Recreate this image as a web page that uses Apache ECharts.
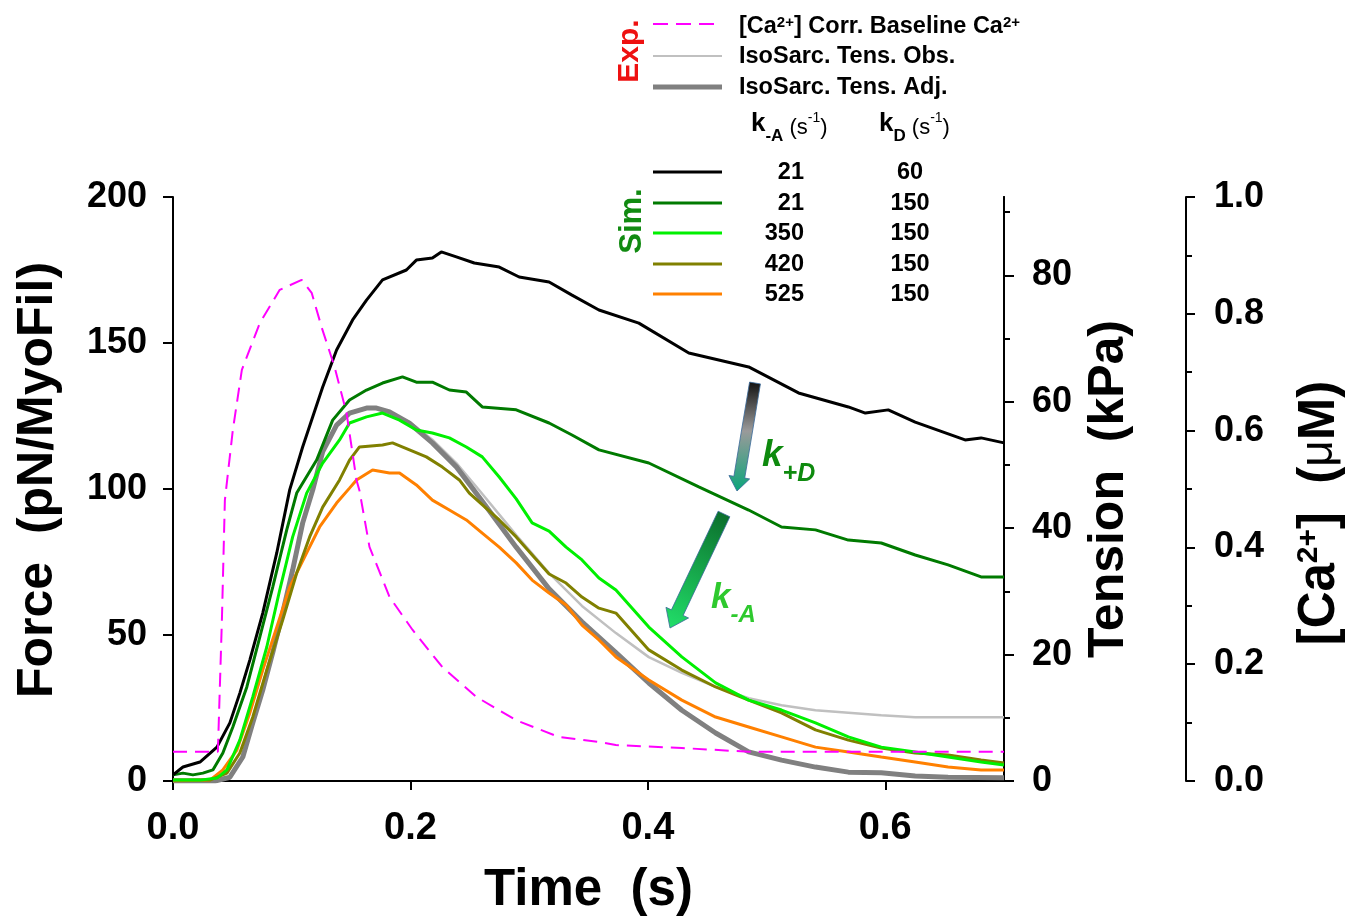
<!DOCTYPE html>
<html><head><meta charset="utf-8">
<script src="https://cdn.jsdelivr.net/npm/echarts@6/dist/echarts.min.js"></script>
<style>html,body{margin:0;padding:0;background:#fff}#c{width:1353px;height:924px}</style>
</head><body><div id="c"></div>
<script>
// ---------- Data (time in s) ----------
const timeTicks = [0, 0.2, 0.4, 0.6];
const forceTicks = [0, 50, 100, 150, 200];
const tensionMajorTicks = [0, 20, 40, 60, 80];
const tensionMinorTicks = [10, 30, 50, 70, 90];

// Experimental Ca2+ (uM), right-most axis
const caCorr = [[0,0.05],[0.0378,0.05],[0.0412,0.276],[0.0437,0.481],[0.0504,0.601],[0.058,0.704],[0.0731,0.784],[0.0899,0.841],[0.1084,0.858],[0.1168,0.836],[0.1252,0.777],[0.1361,0.709],[0.1462,0.63],[0.1546,0.515],[0.157,0.498],[0.1655,0.401],[0.1824,0.315],[0.2017,0.259],[0.2269,0.195],[0.2555,0.144],[0.2891,0.104],[0.3252,0.0753],[0.3588,0.0668],[0.373,0.0616],[0.4286,0.0565],[0.485,0.05],[0.7,0.05]];

// Experimental tension (kPa)
const tensObs = [[0,0],[0.0353,0],[0.0479,0.6],[0.0588,3.8],[0.0672,9.2],[0.0756,14.4],[0.084,20.3],[0.0924,26.6],[0.1008,33.4],[0.1092,40.8],[0.1176,46.0],[0.1261,52.1],[0.1378,56.3],[0.1487,58.2],[0.163,59.0],[0.1714,59.0],[0.1824,58.4],[0.1992,56.8],[0.2185,54.0],[0.2387,50.3],[0.258,46.0],[0.2891,38.9],[0.3168,32.9],[0.3445,27.7],[0.3731,23.4],[0.4008,19.6],[0.4286,17.1],[0.4571,14.9],[0.4849,13.1],[0.5126,12.0],[0.5412,11.2],[0.5689,10.8],[0.5966,10.4],[0.6252,10.1],[0.6529,10.1],[0.7,10.1]];
const tensAdj = [[0,0],[0.0353,0],[0.0479,0.6],[0.0588,3.8],[0.0672,9.2],[0.0756,14.4],[0.084,20.3],[0.0924,26.6],[0.1008,33.4],[0.1092,40.8],[0.1176,46.0],[0.1261,52.1],[0.1378,56.3],[0.1487,58.2],[0.163,59.0],[0.1714,59.0],[0.1824,58.4],[0.1992,56.6],[0.2185,53.5],[0.2387,49.7],[0.258,44.9],[0.2891,37.0],[0.3168,30.4],[0.3445,25.2],[0.3731,20.3],[0.4008,15.5],[0.4286,11.2],[0.4571,7.6],[0.4849,4.6],[0.5126,3.3],[0.5412,2.2],[0.5689,1.4],[0.5966,1.3],[0.6252,0.8],[0.6529,0.6],[0.7,0.5]];

// Simulated force (pN/MyoFil)
const sim21_60 = [[0,2.1],[0.0084,4.8],[0.0227,6.5],[0.037,11.6],[0.0479,19.9],[0.0563,30.1],[0.0647,41.4],[0.0756,57.5],[0.0874,78.1],[0.0983,99.7],[0.1092,114.4],[0.1261,134.9],[0.1378,147.6],[0.1513,157.9],[0.163,164.7],[0.1765,171.6],[0.1966,175.0],[0.205,178.4],[0.2185,179.1],[0.226,181.2],[0.2387,179.5],[0.2538,177.4],[0.2748,176.0],[0.2916,172.6],[0.3168,170.9],[0.3361,166.4],[0.3588,161.3],[0.3924,156.8],[0.4345,146.6],[0.4849,141.8],[0.5269,132.9],[0.5689,128.1],[0.5832,126.0],[0.6025,127.1],[0.6252,122.9],[0.6672,116.8],[0.6807,117.5],[0.7,115.8]];
const sim21_150 = [[0,2.1],[0.0084,2.7],[0.0168,2.1],[0.0252,2.7],[0.0336,3.8],[0.042,9.6],[0.0504,18.5],[0.0622,32.2],[0.0731,49.3],[0.084,66.4],[0.0958,86.0],[0.1042,98.6],[0.121,109.9],[0.1345,123.6],[0.1487,130.5],[0.163,133.9],[0.1765,136.3],[0.1933,138.4],[0.205,136.6],[0.2185,136.6],[0.2328,133.9],[0.2471,133.2],[0.2605,128.1],[0.2891,127.1],[0.3168,122.6],[0.3361,118.5],[0.3588,113.4],[0.4008,108.9],[0.4429,100.7],[0.4849,92.8],[0.5126,87.0],[0.5412,86.0],[0.5689,82.5],[0.5966,81.5],[0.6252,77.4],[0.6529,74.0],[0.6807,69.9],[0.7,69.9]];
const sim350_150 = [[0,0.3],[0.0227,0.3],[0.037,1.0],[0.0454,3.8],[0.0563,14.0],[0.0672,28.8],[0.079,45.9],[0.0899,65.4],[0.1008,83.6],[0.1126,98.6],[0.1261,108.9],[0.1403,116.8],[0.1487,122.6],[0.163,124.7],[0.1765,126.0],[0.1908,123.6],[0.205,120.2],[0.2185,119.2],[0.2328,117.5],[0.2471,114.4],[0.2605,111.0],[0.2748,104.1],[0.2891,96.6],[0.3025,88.4],[0.3168,85.6],[0.3311,80.1],[0.3445,75.7],[0.3588,69.5],[0.3731,65.4],[0.4008,52.7],[0.4286,42.5],[0.4571,33.6],[0.4849,27.7],[0.5126,24.3],[0.5412,19.9],[0.5689,15.1],[0.5966,11.6],[0.6252,9.9],[0.6529,8.2],[0.6807,6.5],[0.7,5.5]];
const sim420_150 = [[0,0.3],[0.0311,0.3],[0.0454,2.7],[0.0563,9.6],[0.0672,21.9],[0.079,38.0],[0.0924,55.1],[0.1042,71.2],[0.1151,83.6],[0.1261,93.8],[0.1403,103.1],[0.1487,109.9],[0.1571,114.4],[0.1765,115.1],[0.1849,115.8],[0.1992,113.4],[0.2134,111.0],[0.2269,107.5],[0.2412,103.1],[0.2496,98.6],[0.2748,89.4],[0.2891,83.6],[0.3168,70.9],[0.3311,67.8],[0.3445,63.0],[0.3588,59.2],[0.3731,57.5],[0.4008,44.9],[0.4286,38.0],[0.4571,32.2],[0.4849,27.7],[0.5126,23.3],[0.5412,17.5],[0.5689,14.0],[0.5966,11.3],[0.6252,9.6],[0.6529,8.9],[0.6807,7.2],[0.7,6.2]];
const sim525_150 = [[0,0],[0.0311,0.3],[0.042,3.8],[0.0538,10.6],[0.0647,23.3],[0.0756,38.0],[0.0874,52.7],[0.0983,66.4],[0.1126,78.1],[0.1235,87.0],[0.1378,95.2],[0.1487,100.3],[0.1546,103.1],[0.1681,106.5],[0.1824,105.5],[0.1908,105.5],[0.205,101.4],[0.2185,96.2],[0.2328,92.8],[0.2471,89.4],[0.2605,84.9],[0.2748,80.1],[0.2891,74.7],[0.3025,68.8],[0.3168,64.4],[0.3311,60.3],[0.3445,53.4],[0.3588,48.3],[0.3731,42.5],[0.4008,34.6],[0.4286,27.7],[0.4571,21.9],[0.4849,18.5],[0.5126,15.1],[0.5412,11.6],[0.5689,9.9],[0.5966,8.2],[0.6252,6.5],[0.6529,4.8],[0.6807,3.8],[0.7,3.8]];

const simRows = [
  { kA: '21',  kD: '60',  color: '#000000', data: sim21_60 },
  { kA: '21',  kD: '150', color: '#007a00', data: sim21_150 },
  { kA: '350', kD: '150', color: '#00f000', data: sim350_150 },
  { kA: '420', kD: '150', color: '#808000', data: sim420_150 },
  { kA: '525', kD: '150', color: '#ff8000', data: sim525_150 }
];

// ---------- Chart ----------
const FONT = '"Liberation Sans", Arial, sans-serif';
const chart = echarts.init(document.getElementById('c'), null, { renderer: 'canvas' });

const axisLineStyle = { show: true, lineStyle: { color: '#000', width: 2 } };
const labelStyle = { fontFamily: FONT, fontWeight: 'bold', fontSize: 36, color: '#000' };
const nameStyle = { fontFamily: FONT, fontWeight: 'bold', fontSize: 50, color: '#000' };

function arrowPoints(x1, y1, x2, y2, sw, hw, hl) {
  const dx = x2 - x1, dy = y2 - y1, L = Math.hypot(dx, dy);
  const ux = dx / L, uy = dy / L, nx = -uy, ny = ux;
  const bx = x2 - ux * hl, by = y2 - uy * hl;
  return [
    [x1 + nx * sw, y1 + ny * sw], [bx + nx * sw, by + ny * sw], [bx + nx * hw, by + ny * hw],
    [x2, y2],
    [bx - nx * hw, by - ny * hw], [bx - nx * sw, by - ny * sw], [x1 - nx * sw, y1 - ny * sw]
  ];
}

const legendText = { fontFamily: FONT, fontWeight: 'bold', fontSize: 23.5, fill: '#000' };
const graphics = [];
// Exp. legend
graphics.push({ type: 'text', x: 630, y: 51, rotation: Math.PI / 2,
  style: { text: 'Exp.', fontFamily: FONT, fontWeight: 'bold', fontSize: 30, fill: '#ee1111', align: 'center', verticalAlign: 'middle' } });
graphics.push({ type: 'line', shape: { x1: 653, y1: 24, x2: 722, y2: 24 }, style: { stroke: '#ff00ff', lineWidth: 2, lineDash: [15, 8] } });
graphics.push({ type: 'line', shape: { x1: 653, y1: 56, x2: 722, y2: 56 }, style: { stroke: '#c0c0c0', lineWidth: 2 } });
graphics.push({ type: 'line', shape: { x1: 653, y1: 87, x2: 722, y2: 87 }, style: { stroke: '#808080', lineWidth: 5 } });
graphics.push({ type: 'text', x: 739, y: 27, style: Object.assign({}, legendText, {
  text: '{n|[Ca}{s|2+}{n|] Corr. Baseline Ca}{s|2+}', verticalAlign: 'middle',
  rich: { n: { fontFamily: FONT, fontWeight: 'bold', fontSize: 23.5 }, s: { fontFamily: FONT, fontWeight: 'bold', fontSize: 15, verticalAlign: 'top' } } }) });
graphics.push({ type: 'text', x: 739, y: 57, style: Object.assign({}, legendText, { text: 'IsoSarc. Tens. Obs.', verticalAlign: 'middle' }) });
graphics.push({ type: 'text', x: 739, y: 88, style: Object.assign({}, legendText, { text: 'IsoSarc. Tens. Adj.', verticalAlign: 'middle' }) });
// Column headers
const hdrRich = {
  k: { fontFamily: FONT, fontWeight: 'bold', fontSize: 26, padding: [0, 0, 8, 0] },
  sb: { fontFamily: FONT, fontWeight: 'bold', fontSize: 17, verticalAlign: 'bottom' },
  r: { fontFamily: FONT, fontWeight: 'normal', fontSize: 22 },
  sp: { fontFamily: FONT, fontWeight: 'normal', fontSize: 14, verticalAlign: 'top' }
};
graphics.push({ type: 'text', x: 751, y: 128, style: { text: '{k|k}{sb|-A}{r| (s}{sp|-1}{r|)}', verticalAlign: 'middle', fill: '#000', rich: hdrRich } });
graphics.push({ type: 'text', x: 879, y: 128, style: { text: '{k|k}{sb|D}{r| (s}{sp|-1}{r|)}', verticalAlign: 'middle', fill: '#000', rich: hdrRich } });
// Sim legend
graphics.push({ type: 'text', x: 632, y: 221, rotation: Math.PI / 2,
  style: { text: 'Sim.', fontFamily: FONT, fontWeight: 'bold', fontSize: 31, fill: '#118a11', align: 'center', verticalAlign: 'middle' } });
const rowY = [172, 203, 233, 264, 294];
simRows.forEach((r, i) => {
  graphics.push({ type: 'line', shape: { x1: 653, y1: rowY[i], x2: 722, y2: rowY[i] }, style: { stroke: r.color, lineWidth: 3 } });
  graphics.push({ type: 'text', x: 804, y: rowY[i] + 1, style: Object.assign({}, legendText, { text: r.kA, align: 'right', verticalAlign: 'middle' }) });
  graphics.push({ type: 'text', x: 910, y: rowY[i] + 1, style: Object.assign({}, legendText, { text: r.kD, align: 'center', verticalAlign: 'middle' }) });
});
// Arrows
graphics.push({ type: 'polygon', shape: { points: arrowPoints(755, 383, 737, 491, 5.5, 10.5, 14) },
  style: { fill: new echarts.graphic.LinearGradient(0, 0, 0, 1, [
    { offset: 0, color: '#111111' }, { offset: 0.45, color: '#9a9a9a' }, { offset: 1, color: '#0aa57a' }]),
    stroke: '#3a6a9a', lineWidth: 0.8 } });
graphics.push({ type: 'polygon', shape: { points: arrowPoints(724, 514, 670, 628, 6.5, 12.5, 17) },
  style: { fill: new echarts.graphic.LinearGradient(1, 0, 0, 1, [
    { offset: 0, color: '#0a6a2a' }, { offset: 1, color: '#22e06a' }]),
    stroke: '#3a6a9a', lineWidth: 0.8 } });
graphics.push({ type: 'text', x: 762, y: 462, style: { text: '{k|k}{s|+D}', verticalAlign: 'middle', fill: '#0e8a0e',
  rich: { k: { fontFamily: FONT, fontWeight: 'bold', fontStyle: 'italic', fontSize: 37, padding: [0, 0, 12, 0] },
          s: { fontFamily: FONT, fontWeight: 'bold', fontStyle: 'italic', fontSize: 25, verticalAlign: 'bottom' } } } });
graphics.push({ type: 'text', x: 711, y: 604, style: { text: '{k|k}{s|-A}', verticalAlign: 'middle', fill: '#2ec92e',
  rich: { k: { fontFamily: FONT, fontWeight: 'bold', fontStyle: 'italic', fontSize: 35, padding: [0, 0, 12, 0] },
          s: { fontFamily: FONT, fontWeight: 'bold', fontStyle: 'italic', fontSize: 24, verticalAlign: 'bottom' } } } });

const series = [
  { name: 'IsoSarc. Tens. Obs.', type: 'line', yAxisIndex: 1, data: tensObs, showSymbol: false, lineStyle: { color: '#c0c0c0', width: 2.5 } },
  { name: 'IsoSarc. Tens. Adj.', type: 'line', yAxisIndex: 1, data: tensAdj, showSymbol: false, lineStyle: { color: '#808080', width: 5 } }
];
simRows.slice().reverse().forEach(r => {
  series.push({ name: r.kA + '/' + r.kD, type: 'line', yAxisIndex: 0, data: r.data, showSymbol: false, lineStyle: { color: r.color, width: 3 } });
});
series.push({ name: '[Ca2+] Corr.', type: 'line', yAxisIndex: 2, data: caCorr, showSymbol: false, lineStyle: { color: '#ff00ff', width: 2, type: [14, 8] } });

chart.setOption({
  animation: false,
  backgroundColor: '#fff',
  grid: { left: 173, top: 197, width: 833, height: 584, containLabel: false },
  xAxis: {
    type: 'value', min: 0, max: 0.7,
    axisLine: axisLineStyle,
    axisTick: { show: true, inside: false, length: 9, lineStyle: { width: 2, color: '#000' }, customValues: timeTicks },
    axisLabel: Object.assign({}, labelStyle, { fontSize: 38, margin: 29, customValues: timeTicks, formatter: v => v.toFixed(1) }),
    splitLine: { show: false },
    name: 'Time  (s)', nameLocation: 'middle', nameGap: 84, nameTextStyle: Object.assign({}, nameStyle, { fontSize: 51 })
  },
  yAxis: [
    { type: 'value', position: 'left', min: 0, max: 200, interval: 50,
      axisLine: axisLineStyle,
      axisTick: { show: true, length: 10, lineStyle: { width: 2, color: '#000' } },
      axisLabel: Object.assign({}, labelStyle, { margin: 26 }),
      splitLine: { show: false },
      name: 'Force  (pN/MyoFil)', nameLocation: 'middle', nameRotate: 90, nameGap: 110,
      nameTextStyle: Object.assign({}, nameStyle, { padding: [0, 0, 0, 18] }) },
    { type: 'value', position: 'right', offset: 0, min: 0, max: 92.4,
      axisLine: axisLineStyle,
      axisTick: { show: true, length: 10, lineStyle: { width: 2, color: '#000' }, customValues: tensionMajorTicks },
      axisLabel: Object.assign({}, labelStyle, { margin: 28, customValues: tensionMajorTicks }),
      splitLine: { show: false },
      name: 'Tension  (kPa)', nameLocation: 'middle', nameRotate: 90, nameGap: 80, nameTextStyle: nameStyle },
    { type: 'value', position: 'right', offset: 182, min: 0, max: 1, interval: 0.2,
      axisLine: axisLineStyle,
      axisTick: { show: true, length: 9, lineStyle: { width: 2, color: '#000' } },
      minorTick: { show: true, splitNumber: 2, length: 6, lineStyle: { width: 2, color: '#000' } },
      axisLabel: Object.assign({}, labelStyle, { margin: 28, formatter: v => v.toFixed(1) }),
      splitLine: { show: false }, minorSplitLine: { show: false },
      name: '{b|[Ca}{s|2+}{b|]  (}{m|μ}{e|M)}', nameLocation: 'middle', nameRotate: 90, nameGap: 108,
      nameTextStyle: { fontFamily: FONT, fontWeight: 'bold', fontSize: 50, color: '#000',
        rich: { b: { fontFamily: FONT, fontWeight: 'bold', fontSize: 51 },
                e: { fontFamily: FONT, fontWeight: 'bold', fontSize: 51, padding: [0, 48, 0, 0] },
                s: { fontFamily: FONT, fontWeight: 'bold', fontSize: 30, verticalAlign: 'top' },
                m: { fontFamily: FONT, fontWeight: 'normal', fontSize: 46 } } } },
    { type: 'value', position: 'right', offset: 0, min: 0, max: 92.4,
      axisLine: axisLineStyle,
      axisTick: { show: true, length: 6, lineStyle: { width: 2, color: '#000' }, customValues: tensionMinorTicks },
      axisLabel: { show: false }, splitLine: { show: false } }
  ],
  graphic: graphics,
  series: series
});
</script>
</body></html>
